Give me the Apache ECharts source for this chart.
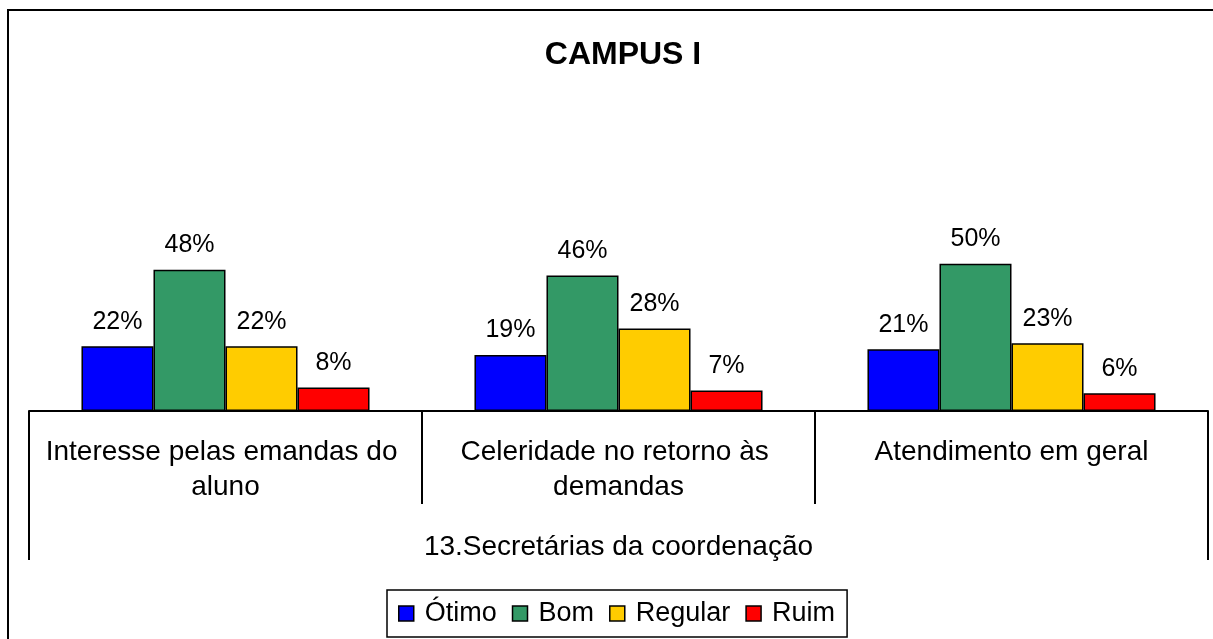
<!DOCTYPE html>
<html>
<head>
<meta charset="utf-8">
<script src="https://cdn.jsdelivr.net/npm/echarts@6/dist/echarts.min.js"></script>
<style>
html,body{margin:0;padding:0;background:#fff;}
#chart{width:1213px;height:639px;}
</style>
</head>
<body>
<div id="chart"></div>
<script>
const titleText = 'CAMPUS I';
const categories = ['Interesse pelas emandas do aluno', 'Celeridade no retorno às demandas', 'Atendimento em geral'];
const groupLabel = ['13.Secretárias da coordenação'];
const seriesNames = ['Ótimo', 'Bom', 'Regular', 'Ruim'];
const otimo = [22, 19, 21];
const bom = [48, 46, 50];
const regular = [22, 28, 23];
const ruim = [8, 7, 6];
const colors = ['#0000FF', '#339966', '#FFCC00', '#FF0000'];

const FONT = 'Liberation Sans, Arial, sans-serif';
const values = [otimo, bom, regular, ruim];

const chart = echarts.init(document.getElementById('chart'), null, {renderer: 'canvas'});
chart.setOption({
  animation: false,
  backgroundColor: '#fff',
  title: {
    text: titleText,
    left: 618,
    top: 34,
    textAlign: 'center',
    textStyle: {fontFamily: FONT, fontSize: 32, fontWeight: 'bold', color: '#000'}
  },
  graphic: [{
    type: 'rect',
    shape: {x: 8, y: 10, width: 1220, height: 650},
    style: {fill: 'none', stroke: '#000', lineWidth: 2},
    silent: true
  }],
  legend: {
    data: seriesNames,
    left: 387,
    bottom: 2,
    orient: 'horizontal',
    icon: 'rect',
    itemWidth: 15,
    itemHeight: 15,
    itemGap: 15,
    padding: [10, 12, 10, 11],
    borderColor: '#000',
    borderWidth: 1.5,
    itemStyle: {borderColor: '#000', borderWidth: 1.5},
    textStyle: {fontFamily: FONT, fontSize: 27, color: '#000', lineHeight: 27, padding: [0, 0, 0, 6]}
  },
  grid: {left: 29, right: 5, top: 116.5, bottom: 228, containLabel: false},
  xAxis: [{
    type: 'category',
    data: categories,
    position: 'bottom',
    axisLine: {show: true, lineStyle: {color: '#000', width: 2}},
    axisTick: {show: true, interval: 0, length: 93, lineStyle: {color: '#000', width: 2}},
    axisLabel: {
      interval: 0, margin: 24, color: '#000', fontFamily: FONT, fontSize: 28,
      lineHeight: 35, width: 380, overflow: 'break', align: 'center'
    }
  }, {
    type: 'category',
    data: groupLabel,
    position: 'bottom',
    axisLine: {show: false},
    axisTick: {show: true, length: 149, lineStyle: {color: '#000', width: 2}},
    axisLabel: {margin: 119, color: '#000', fontFamily: FONT, fontSize: 28, lineHeight: 35}
  }],
  yAxis: {type: 'value', min: 0, max: 100, show: false},
  series: seriesNames.map((name, i) => ({
    name: name,
    type: 'bar',
    data: values[i],
    barGap: '0%',
    barCategoryGap: '26.7%',
    itemStyle: {color: colors[i], borderColor: '#000', borderWidth: 1.5},
    label: {
      show: true, position: 'top', distance: 12,
      formatter: '{c}%', color: '#000', fontFamily: FONT, fontSize: 25
    }
  }))
});
</script>
</body>
</html>
